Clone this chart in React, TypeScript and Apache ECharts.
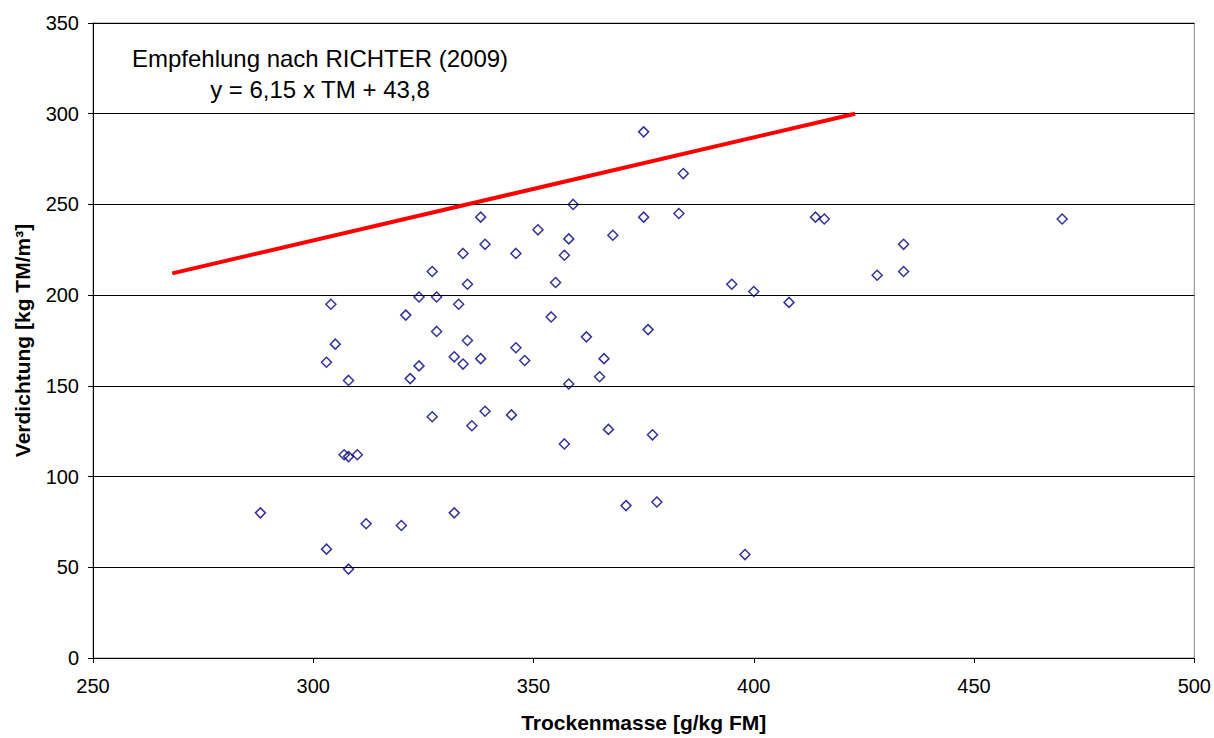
import React, { useEffect, useRef } from "react";
import * as echarts from "echarts";

const trockenmasse: number[] = [
  288, 303, 308, 312, 320, 332, 307, 308, 310, 303, 304, 305, 308, 321, 322, 324, 324,
  327, 327, 328, 328, 332, 333, 334, 334, 335, 335, 336, 338, 338, 339, 339, 345, 346,
  346, 348, 351, 354, 355, 357, 358, 358, 357, 359, 362, 365, 366, 367, 368, 371, 375,
  375, 376, 377, 378, 383, 384, 395, 398, 400, 408, 414, 416, 428, 434, 434, 470,
];
const verdichtung: number[] = [
  80, 60, 49, 74, 73, 80, 112, 111, 112, 163, 195, 173, 153, 189, 154, 161, 199,
  213, 133, 199, 180, 166, 195, 223, 162, 206, 175, 128, 243, 165, 228, 136, 134, 223,
  171, 164, 236, 188, 207, 222, 231, 151, 118, 250, 177, 155, 165, 126, 233, 84, 290,
  243, 181, 123, 86, 245, 267, 206, 57, 202, 196, 243, 242, 211, 228, 213, 242,
];
const richterX: number[] = [268, 423];
const richterY: number[] = [212, 300];
const xTicks = { min: 250, max: 500, interval: 50 };
const yTicks = { min: 0, max: 350, interval: 50 };
const annotationLines: string[] = ["Empfehlung nach RICHTER (2009)", "y = 6,15 x TM + 43,8"];

const FONT = "'Liberation Sans', Arial, Helvetica, sans-serif";

export default function App() {
  const ref = useRef<HTMLDivElement>(null);
  useEffect(() => {
    document.body.style.margin = "0";
    if (!ref.current) return;
    const chart = echarts.init(ref.current, undefined, { renderer: "svg" });
    const points = trockenmasse.map((x, i) => [x, verdichtung[i]]);
    const line = richterX.map((x, i) => [x, richterY[i]]);
    chart.setOption({
      animation: false,
      backgroundColor: "#ffffff",
      textStyle: { fontFamily: FONT },
      grid: {
        left: 93,
        right: 17,
        top: 23,
        bottom: 75,
        show: true,
        borderColor: "#888888",
        borderWidth: 1,
        backgroundColor: "transparent",
      },
      xAxis: {
        type: "value",
        min: xTicks.min,
        max: xTicks.max,
        interval: xTicks.interval,
        name: "Trockenmasse [g/kg FM]",
        nameLocation: "middle",
        nameGap: 54,
        nameTextStyle: { fontFamily: FONT, fontSize: 21, fontWeight: "bold", color: "#000" },
        axisLine: { show: true, onZero: false, lineStyle: { color: "#000", width: 1 } },
        axisTick: { show: true, inside: false, length: 5, lineStyle: { color: "#000" } },
        axisLabel: { fontFamily: FONT, fontSize: 20, color: "#000", margin: 18 },
        splitLine: { show: false },
      },
      yAxis: {
        type: "value",
        min: yTicks.min,
        max: yTicks.max,
        interval: yTicks.interval,
        name: "Verdichtung [kg TM/m³]",
        nameLocation: "middle",
        nameGap: 60,
        nameTextStyle: { fontFamily: FONT, fontSize: 21, fontWeight: "bold", color: "#000" },
        axisLine: { show: true, lineStyle: { color: "#000", width: 1 } },
        axisTick: { show: true, inside: false, length: 5, lineStyle: { color: "#000" } },
        axisLabel: { fontFamily: FONT, fontSize: 20, color: "#000", margin: 14 },
        splitLine: { show: true, lineStyle: { color: "#000", width: 1 } },
      },
      series: [
        {
          type: "line",
          data: line,
          symbol: "none",
          lineStyle: { color: "#ff0000", width: 4 },
          z: 3,
        },
        {
          type: "scatter",
          data: points,
          symbol: "diamond",
          symbolSize: 10,
          itemStyle: { color: "rgba(255,255,255,0)", borderColor: "#000080", borderWidth: 1.5 },
          z: 4,
        },
      ],
      graphic: [
        {
          type: "text",
          x: 320,
          y: 58,
          style: {
            text: annotationLines[0],
            fontFamily: FONT,
            fontSize: 24,
            fill: "#000",
            textAlign: "center",
            textVerticalAlign: "middle",
          },
        },
        {
          type: "text",
          x: 320,
          y: 89,
          style: {
            text: annotationLines[1],
            fontFamily: FONT,
            fontSize: 24,
            fill: "#000",
            textAlign: "center",
            textVerticalAlign: "middle",
          },
        },
      ],
    });
    return () => chart.dispose();
  }, []);
  return <div ref={ref} style={{ width: 1214, height: 738 }} />;
}
